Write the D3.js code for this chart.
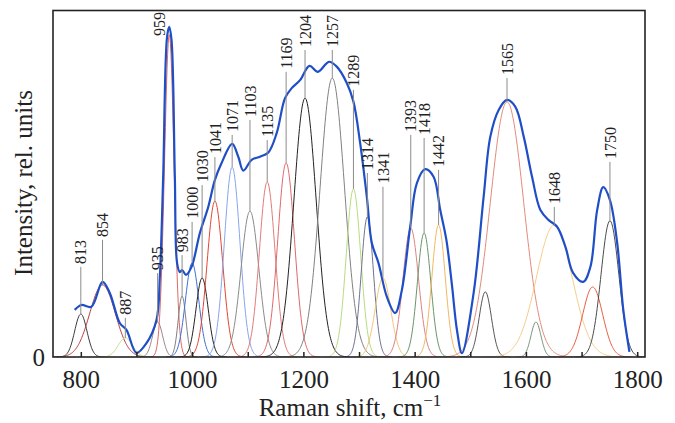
<!DOCTYPE html>
<html>
<head>
<meta charset="utf-8">
<script src="https://cdn.jsdelivr.net/npm/d3@7"></script>
<style>
  body { margin: 0; background: #fff; }
  svg { display: block; font-family: "Liberation Serif", "Times New Roman", serif; }
</style>
</head>
<body>
<div id="raman"></div>
<script>
const envShift = [789,801,819,839,852,870,882,900,918,936,942,948,955,959,963,969,973,978,982,989,999,1014,1029,1041,1053,1072,1083,1092,1107,1122,1137,1152,1167,1179,1194,1211,1226,1246,1260,1278,1290,1302,1314,1323,1335,1350,1365,1377,1392,1404,1419,1434,1446,1457,1467,1476,1485,1506,1524,1536,1551,1566,1581,1596,1611,1626,1641,1656,1671,1685,1703,1716,1728,1739,1751,1764,1775,1786];
const envIntensity = [13.6,15.0,14.5,21.7,18.5,9.8,7.8,1.2,4.0,10.7,23.1,51.9,92.4,95.3,91.5,51.9,27.1,24.5,25.1,23.7,26.0,35.8,43.3,51.1,56.0,61.5,57.8,53.8,56.9,57.8,59.0,64.6,74.7,77.6,79.9,84.0,82.3,85.2,83.8,79.1,73.7,61.8,46.3,32.9,27.1,17.4,12.7,19.3,37.6,50.2,54.2,52.0,42.4,33.8,20.8,7.8,1.1,18.5,46.3,63.6,71.3,74.2,72.2,63.6,52.0,42.4,39.5,37.6,31.8,24.2,21.7,26.1,42.4,49.0,45.3,32.9,13.6,1.5];

// fitted bands: centre (as drawn), peak height, gaussian sigma
const bandShift = [800,839,880,938,959,982,1000,1018,1041,1072,1104,1135,1169,1203,1252,1290,1315,1343,1393,1417,1443,1527,1566,1618,1651,1720,1751];
const bandHeight = [12.4,20.8,5.5,10.1,93,17.6,27.1,22.8,45.0,54.8,42.1,50.5,56.0,74.7,80.5,48.5,40.4,22.8,37.2,35.8,38.1,18.8,73.6,10.1,38.1,20.2,39.3];
const bandSigma = [11,23,13,9,8.5,7,12,11,14,14,16,14,15,20,22,13,11,14,14,12,12,11,30,9,32,18,16];
const bandLabel = ['813','854','887','935','959','983','1000','1030','1041','1071','1103','1135','1169','1204','1257','1289','1314','1341','1393','1418','1442','','1565','','1648','','1750'];

// tick labels
const xTicks = [800,900,1000,1100,1200,1300,1400,1500,1600,1700,1800];
const xTickLabels = ['800','','1000','','1200','','1400','','1600','','1800'];

// styling / annotation layout (kept apart from the data)
const bandColors = ['#3a3a3a','#b83a3a','#c5de85','#9c8585','#e06a60','#808080','#3f6fd6','#222222','#e2452f','#86a5ea','#8a8a8a','#e27b7b','#e06868','#222222','#808080','#b5dc80','#6f7390','#f3c47a','#e08080','#6a946a','#f2b860','#555555','#e28a7a','#7a957a','#f5cc8a','#e85a40','#4a4a4a'];
const labelBase = [26.0,33.8,11.3,24.2,91.8,29.4,39.0,49.6,57.7,64.1,68.4,62.6,82.3,88.6,88.6,77.1,53.1,49.1,64.1,63.2,54.0,null,80.5,null,43.3,null,56.3];
const labelNudge = {4: -10};

const width = 675, height = 423;
const box = {l:53, r:645, t:10.5, b:357};

const svg = d3.select('#raman')
	.append('svg')
	.attr('width', width)
	.attr('height', height);

const x = d3.scaleLinear().domain([750,1814]).range([box.l, box.r]);
const y = d3.scaleLinear().domain([0,100]).range([box.b, box.t]);

svg.append('clipPath').attr('id','plot-clip')
	.append('rect')
	.attr('x', box.l).attr('y', box.t)
	.attr('width', box.r - box.l).attr('height', box.b - box.t);

const line = d3.line().x(d => x(d[0])).y(d => y(d[1]));

//bands
const bands = bandShift.map((c,i) => {
	const s = bandSigma[i], h = bandHeight[i];
	return d3.range(c - 4*s, c + 4*s + 0.5, 1)
		.map(v => [v, h*Math.exp(-((v-c)*(v-c))/(2*s*s))]);
});

svg.append('g')
	.attr('clip-path','url(#plot-clip)')
	.selectAll('.band')
	.data(bands)
	.enter()
	.append('path')
	.attr('class','band')
	.attr('d', line)
	.style('fill','none')
	.style('stroke', (d,i) => bandColors[i])
	.style('stroke-width', 1);

//envelope
const envelope = envShift.map((v,i) => [v, envIntensity[i]]);
svg.append('path')
	.datum(envelope)
	.attr('d', line.curve(d3.curveCatmullRom.alpha(0.5)))
	.style('fill','none')
	.style('stroke','#1f4ec6')
	.style('stroke-width', 2.2);

//peak labels and leader lines
const labels = bandLabel
	.map((t,i) => ({text:t, i:i, c:bandShift[i], h:bandHeight[i], base:labelBase[i]}))
	.filter(d => d.text !== '');

svg.selectAll('.leader')
	.data(labels.filter(d => d.base > d.h))
	.enter()
	.append('line')
	.attr('class','leader')
	.attr('x1', d => x(d.c)).attr('x2', d => x(d.c))
	.attr('y1', d => y(d.h)).attr('y2', d => y(d.base))
	.style('stroke','#8c8c8c')
	.style('stroke-width', 1);

svg.selectAll('.peak-label')
	.data(labels)
	.enter()
	.append('text')
	.attr('class','peak-label')
	.attr('transform', d => `translate(${x(d.c) + (labelNudge[d.i] || 0)},${y(d.base) - 3}) rotate(-90)`)
	.attr('dy','0.35em')
	.style('font-size','16px')
	.style('fill','#222')
	.text(d => d.text);

//axes
const axisX = d3.axisBottom(x)
	.tickValues(xTicks)
	.tickSizeInner(-5)
	.tickSizeOuter(0)
	.tickPadding(13)
	.tickFormat((d,i) => xTickLabels[i]);

const axisXNode = svg.append('g')
	.attr('transform', `translate(0,${box.b})`)
	.call(axisX);
axisXNode.select('.domain').remove();
axisXNode.selectAll('line').style('stroke','#222').style('stroke-width',1.5);
axisXNode.selectAll('text')
	.style('font-family','"Liberation Serif", "Times New Roman", serif')
	.style('font-size','25px')
	.style('fill','#222');

const axisY = d3.axisLeft(y)
	.tickValues([0])
	.tickSize(0)
	.tickPadding(8);
const axisYNode = svg.append('g')
	.attr('transform', `translate(${box.l},0)`)
	.call(axisY);
axisYNode.select('.domain').remove();
axisYNode.selectAll('text')
	.style('font-family','"Liberation Serif", "Times New Roman", serif')
	.style('font-size','25px')
	.style('fill','#222');

//frame
svg.append('rect')
	.attr('x', box.l).attr('y', box.t)
	.attr('width', box.r - box.l).attr('height', box.b - box.t)
	.style('fill','none')
	.style('stroke','#222')
	.style('stroke-width', 1.6);

//titles
const xTitle = svg.append('text')
	.attr('x', 350).attr('y', 416)
	.attr('text-anchor','middle')
	.style('font-size','25px')
	.style('fill','#222');
xTitle.append('tspan').text('Raman shift, cm');
xTitle.append('tspan').attr('dy', -10).style('font-size','17px').text('\u22121');

svg.append('text')
	.attr('transform','translate(32,183) rotate(-90)')
	.attr('text-anchor','middle')
	.style('font-size','25px')
	.style('fill','#222')
	.text('Intensity, rel. units');
</script>
</body>
</html>
